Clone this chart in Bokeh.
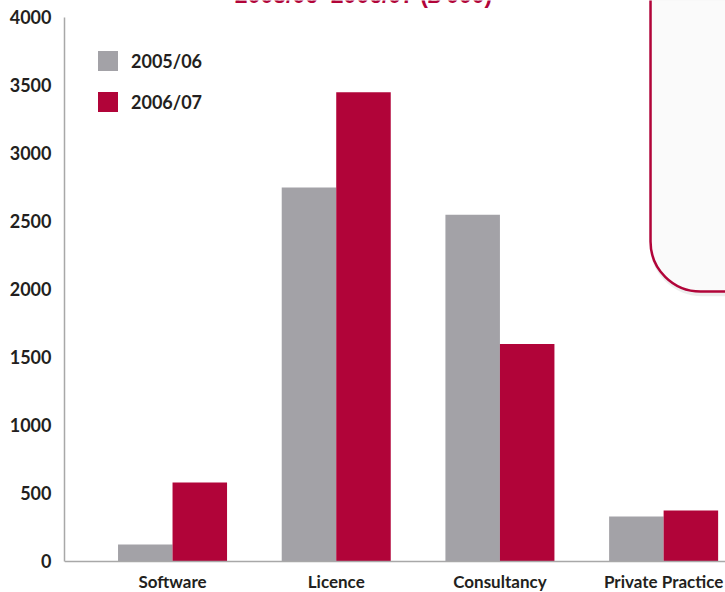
from bokeh.plotting import figure
from bokeh.models import (Range1d, FixedTicker, Span, BoxAnnotation, Label,
                          Legend, LegendItem, ColumnDataSource)
from bokeh.transform import dodge
from bokeh.core.properties import value
from bokeh.embed import file_html
from bokeh.resources import INLINE

categories = ["Software", "Licence", "Consultancy", "Private Practice"]
series_names = ["2005/06", "2006/07"]
values_0506 = [125, 2750, 2550, 330]
values_0607 = [580, 3450, 1600, 375]
y_ticks = [0, 500, 1000, 1500, 2000, 2500, 3000, 3500, 4000]
title_text = "2005/06\u20132006/07 (\u00a3'000)"

GRAY = "#a3a2a7"
RED = "#b10439"
TXT = "#231f20"
FONT = "Lato"
FS = "18px"

idx = list(range(len(categories)))
src = ColumnDataSource(dict(x=idx, cat=categories, a=values_0506, b=values_0607))

p = figure(width=725, height=592, output_backend="svg", toolbar_location=None,
           x_range=Range1d(-0.66, 3.378), y_range=Range1d(-228, 4125),
           x_axis_location=None,
           min_border_left=64, min_border_right=0, min_border_top=0, min_border_bottom=0)
p.margin = (0, 0, 0, 0)
p.outline_line_color = None
p.grid.visible = False
p.background_fill_color = "white"

# shadow + info box
p.add_layout(BoxAnnotation(left=2.915, right=4.0, bottom=1950, top=5000,
                           fill_color="#000000", fill_alpha=0.07, line_color=None,
                           border_radius=(0, 0, 0, 52)))
p.add_layout(BoxAnnotation(left=2.92, right=4.0, bottom=1985, top=5000,
                           fill_color="#fafafa", fill_alpha=1.0, line_color=RED,
                           line_alpha=1.0, line_width=2.5, border_radius=(0, 0, 0, 50)))

bw = 0.333
r0 = p.vbar(x=dodge("x", -0.1665, range=p.x_range), top="a", width=bw, source=src,
            fill_color=GRAY, line_color=None)
r1 = p.vbar(x=dodge("x", 0.1665, range=p.x_range), top="b", width=bw, source=src,
            fill_color=RED, line_color=None)

p.add_layout(Span(location=0, dimension="width", line_color="#a8a8a8", line_width=1.5))

yax = p.yaxis[0]
yax.ticker = FixedTicker(ticks=y_ticks)
yax.bounds = (0, 4000)
yax.axis_line_color = "#a8a8a8"
yax.axis_line_width = 1.5
yax.major_tick_line_color = None
yax.minor_tick_line_color = None
yax.major_tick_out = 0
yax.major_label_standoff = 13
yax.major_label_text_font = FONT
yax.major_label_text_font_style = "bold"
yax.major_label_text_font_size = FS
yax.major_label_text_color = TXT

p.text(x="x", y=-150, text="cat", source=src, text_align="center",
       text_baseline="middle", text_font=value(FONT), text_font_style="bold",
       text_font_size="17px", text_color=TXT)

p.add_layout(Label(x=1.167, y=4169, text=title_text, text_align="center",
                   text_baseline="alphabetic", text_font="Liberation Sans",
                   text_font_style="bold", text_font_size="23px", text_color=RED))

legend = Legend(items=[LegendItem(label=series_names[0], renderers=[r0]),
                       LegendItem(label=series_names[1], renderers=[r1])],
                location=(31, 478), glyph_width=25, glyph_height=25, spacing=16,
                label_height=20, padding=0, margin=0, label_standoff=11,
                border_line_alpha=0, background_fill_alpha=0,
                label_text_font=FONT, label_text_font_style="bold",
                label_text_font_size=FS, label_text_color=TXT)
p.add_layout(legend)

open("out.html", "w").write(file_html(p, INLINE))
